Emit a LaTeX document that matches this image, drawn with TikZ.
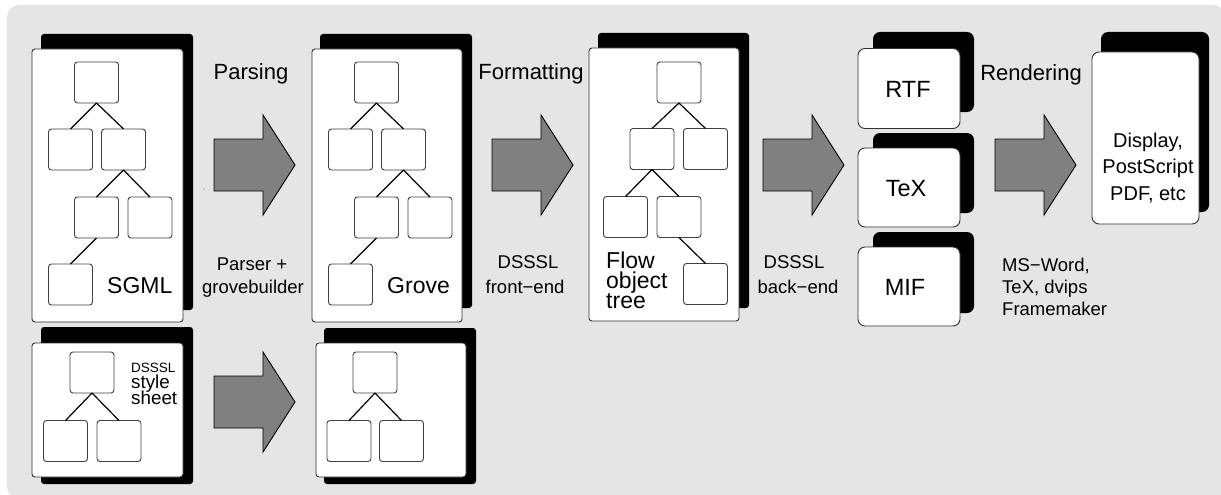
\documentclass[tikz,border=0pt]{standalone}
\usepackage{fontspec}
\setmainfont{Liberation Sans}
\definecolor{bggray}{HTML}{E5E5E5}
\definecolor{arrgray}{HTML}{808080}
\definecolor{edgegray}{HTML}{303030}
\newcommand{\blockarrow}[3]{%
  \filldraw[arrowst] (#2,#3-26) coordinate (#1) -- (#2+49,#3-26) -- (#2+49,#3-50) -- (#2+81,#3) -- (#2+49,#3+50) -- (#2+49,#3+26) -- (#2,#3+26) -- cycle;}
\begin{document}
\begin{tikzpicture}[x=1pt,y=-1pt,
  bigbox/.style={draw=edgegray, line width=0.9pt, fill=white, rounded corners=3pt, inner sep=0pt, outer sep=0pt},
  outbox/.style={draw=edgegray, line width=0.9pt, fill=white, rounded corners=7pt, inner sep=0pt, outer sep=0pt},
  shadow/.style={fill=black, rounded corners=3pt},
  bshadow/.style={fill=black, rounded corners=7pt},
  tnode/.style={draw=black!75, line width=0.9pt, fill=white, rounded corners=3pt, minimum width=44pt, minimum height=41pt, inner sep=0pt, outer sep=0pt},
  tline/.style={line width=1.2pt, black},
  arrowst/.style={fill=arrgray, draw=black, line width=0.9pt, line join=miter},
  hdr/.style={font=\fontsize{22}{26}\selectfont, inner sep=0pt, anchor=base},
  sub/.style={font=\fontsize{18.5}{22}\selectfont, inner sep=0pt, anchor=base},
  boxlab/.style={font=\fontsize{23}{26}\selectfont, inner sep=0pt, anchor=base west},
  outlab/.style={font=\fontsize{23.5}{26}\selectfont, inner sep=0pt, anchor=base},
  displab/.style={font=\fontsize{20}{24}\selectfont, inner sep=0pt, anchor=base}
]
\useasboundingbox (0,0) rectangle (1221,495);
\begin{scope}
  \clip (0,0) rectangle (1221,495);
  \fill[bggray, rounded corners=12pt] (7,5) rectangle (1225,499);
\end{scope}

% ---------- shadows ----------
\fill[shadow] (41,34) rectangle (193,310);
\fill[shadow] (320,34) rectangle (472,308);
\fill[shadow] (598,33) rectangle (749,308);
\fill[shadow] (41,327) rectangle (193,484);
\fill[shadow] (324,328) rectangle (476,484);
\fill[bshadow] (873,32) rectangle (974,112);
\fill[bshadow] (873,133) rectangle (974,213);
\fill[bshadow] (873,232) rectangle (974,313);
\fill[bshadow] (1101,32) rectangle (1209,212);

% ---------- front boxes ----------
\node[bigbox, minimum width=151pt, minimum height=273pt] (sgml) at (107.5,185.5) {};
\node[bigbox, minimum width=150pt, minimum height=273pt] (grove) at (387,185.5) {};
\node[bigbox, minimum width=150pt, minimum height=273pt] (flow) at (664,184.5) {};
\node[bigbox, minimum width=151pt, minimum height=134pt] (style) at (107.5,410) {};
\node[bigbox, minimum width=150pt, minimum height=134pt] (grove2) at (391,410) {};
\node[outbox, minimum width=102pt, minimum height=80pt] (rtf) at (909,88.5) {};
\node[outbox, minimum width=102pt, minimum height=79pt] (tex) at (909,187.5) {};
\node[outbox, minimum width=102pt, minimum height=79pt] (mif) at (909,286.5) {};
\node[outbox, minimum width=107pt, minimum height=172pt] (disp) at (1145.5,138) {};

% ---------- SGML tree ----------
\node[tnode] (s1) at (96.5,82.5) {};
\node[tnode] (s2) at (70.5,149.5) {};
\node[tnode] (s3) at (123.5,149.5) {};
\node[tnode] (s4) at (96.5,217.5) {};
\node[tnode] (s5) at (150,217.5) {};
\node[tnode] (s6) at (70.5,284.5) {};
\draw[tline] (s1.south) -- (s2.north);
\draw[tline] (s1.south) -- (s3.north);
\draw[tline] (s3.south) -- (s4.north);
\draw[tline] (s3.south) -- (s5.north);
\draw[tline] (s4.south) -- (s6.north);

% ---------- Grove tree ----------
\node[tnode] (g1) at (376.5,82.5) {};
\node[tnode] (g2) at (350.5,149.5) {};
\node[tnode] (g3) at (403.5,149.5) {};
\node[tnode] (g4) at (376.5,217.5) {};
\node[tnode] (g5) at (430,217.5) {};
\node[tnode] (g6) at (350.5,284.5) {};
\draw[tline] (g1.south) -- (g2.north);
\draw[tline] (g1.south) -- (g3.north);
\draw[tline] (g3.south) -- (g4.north);
\draw[tline] (g3.south) -- (g5.north);
\draw[tline] (g4.south) -- (g6.north);

% ---------- Flow object tree ----------
\node[tnode] (f1) at (679,82.5) {};
\node[tnode] (f2) at (652,149) {};
\node[tnode] (f3) at (705.5,149) {};
\node[tnode] (f4) at (625.5,217) {};
\node[tnode] (f5) at (679,217) {};
\node[tnode] (f6) at (705.5,284) {};
\draw[tline] (f1.south) -- (f2.north);
\draw[tline] (f1.south) -- (f3.north);
\draw[tline] (f2.south) -- (f4.north);
\draw[tline] (f2.south) -- (f5.north);
\draw[tline] (f5.south) -- (f6.north);

% ---------- style sheet tree ----------
\node[tnode] (d1) at (92,372.5) {};
\node[tnode] (d2) at (65.5,441) {};
\node[tnode] (d3) at (119,441) {};
\draw[tline] (d1.south) -- (d2.north);
\draw[tline] (d1.south) -- (d3.north);

% ---------- bottom grove tree ----------
\node[tnode] (b1) at (375,372.5) {};
\node[tnode] (b2) at (349,441) {};
\node[tnode] (b3) at (401.5,441) {};
\draw[tline] (b1.south) -- (b2.north);
\draw[tline] (b1.south) -- (b3.north);

% ---------- block arrows ----------
\blockarrow{a1}{214}{165}
\blockarrow{a2}{492}{165}
\blockarrow{a3}{763}{165}
\blockarrow{a4}{995}{165}
\blockarrow{a5}{214}{402}
\fill[black!60] (204,189) circle (0.7pt);

% ---------- labels ----------
\node[boxlab] (tsgml) at (107,293) {SGML};
\node[boxlab] (tgrove) at (387,293) {Grove};
\node[boxlab] (tflow1) at (606,268) {Flow};
\node[boxlab] (tflow2) at (606,288) {object};
\node[boxlab] (tflow3) at (606,308) {tree};
\node[font=\fontsize{13.5}{15}\selectfont, inner sep=0pt, anchor=base west] (tds) at (131,372) {DSSSL};
\node[font=\fontsize{18.8}{20}\selectfont, inner sep=0pt, anchor=base west] (tst1) at (131,388) {style};
\node[font=\fontsize{18.8}{20}\selectfont, inner sep=0pt, anchor=base west] (tst2) at (131,404) {sheet};

\node[outlab] (trtf) at (908,97) {RTF};
\node[outlab] (ttex) at (906,196) {TeX};
\node[outlab] (tmif) at (905,295) {MIF};

\node[displab] (td1) at (1148,147) {Display,};
\node[displab] (td2) at (1148,173) {PostScript};
\node[displab] (td3) at (1148,200) {PDF, etc};

\node[hdr] (hparse) at (251,80) {Parsing};
\node[hdr] (hformat) at (531,80) {Formatting};
\node[hdr] (hrender) at (1031,81) {Rendering};

\node[sub] (lp1) at (252,270) {Parser +};
\node[sub] (lp2) at (253,293) {grovebuilder};
\node[sub] (lf1) at (528,268) {DSSSL};
\node[sub] (lf2) at (525,293) {front−end};
\node[sub] (lb1) at (794,268) {DSSSL};
\node[sub] (lb2) at (798,293) {back−end};
\node[sub, anchor=base west] (lr1) at (1002,271) {MS−Word,};
\node[sub, anchor=base west] (lr2) at (1002,293) {TeX, dvips};
\node[sub, anchor=base west] (lr3) at (1002,315) {Framemaker};
\end{tikzpicture}
\end{document}
